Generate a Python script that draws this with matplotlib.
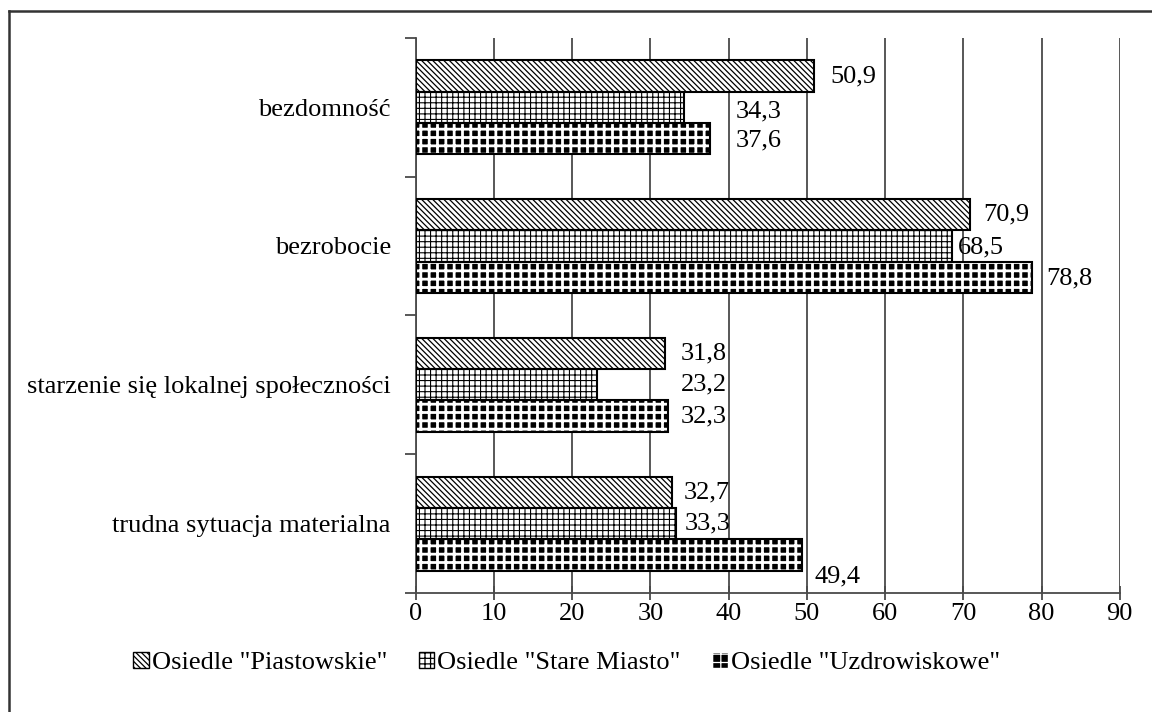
import matplotlib.pyplot as plt
import matplotlib.patches as mpatches
from matplotlib.lines import Line2D
import numpy as np

# categories listed bottom -> top
categories = ["trudna sytuacja materialna", "starzenie się lokalnej społeczności",
              "bezrobocie", "bezdomność"]
series_names = ['Osiedle "Piastowskie"', 'Osiedle "Stare Miasto"', 'Osiedle "Uzdrowiskowe"']
piastowskie = [32.7, 31.8, 70.9, 50.9]
stare_miasto = [33.3, 23.2, 68.5, 34.3]
uzdrowiskowe = [49.4, 32.3, 78.8, 37.6]
x_ticks = [0, 10, 20, 30, 40, 50, 60, 70, 80, 90]

# label nudges in pixels (dx, dy) per series, per category (bottom -> top)
label_shift = [
    [(12, 0), (16, 0), (13, 0), (16, -1)],
    [(8, 0), (84, 0), (6, -1), (52, -4)],
    [(12, -22), (12, 0), (14, -1), (26, -2)],
]

plt.rcParams["font.family"] = ["Liberation Serif", "DejaVu Serif"]
plt.rcParams["hatch.linewidth"] = 0.9

fig = plt.figure(figsize=(11.52, 7.12), dpi=100)
ax = fig.add_axes([0.361, 0.167, 0.611, 0.780])

y = np.arange(len(categories))
h = 0.225
offsets = [h, 0, -h]
gridc = "#4a4a4a"

ax.set_axisbelow(True)
ax.grid(True, axis="x", color=gridc, linewidth=1.3)

styles = [
    dict(facecolor="white", edgecolor="black", hatch="\\\\\\\\\\\\"),
    dict(facecolor="white", edgecolor="black", hatch="+++"),
    dict(facecolor="black", edgecolor="white", hatch="++"),
]
hatch_lw = [0.9, 0.8, 2.0]
data = [piastowskie, stare_miasto, uzdrowiskowe]

for i, (vals, st) in enumerate(zip(data, styles)):
    with plt.rc_context({"hatch.linewidth": hatch_lw[i]}):
        ax.barh(y + offsets[i], vals, height=h, linewidth=0, zorder=2, **st)
    ax.barh(y + offsets[i], vals, height=h, fill=False, edgecolor="black",
            linewidth=1.5, zorder=3)
    for j, v in enumerate(vals):
        dx, dy = label_shift[i][j]
        ax.annotate(f"{v:.1f}".replace(".", ","), (v, y[j] + offsets[i]),
                    xytext=(dx, dy), textcoords="offset pixels",
                    ha="left", va="center", fontsize=19)

ax.set_xlim(0, 90)
ax.set_ylim(-0.5, len(categories) - 0.5)
ax.set_xticks(x_ticks)
ax.set_xticklabels([str(t) for t in x_ticks], fontsize=19)
ax.tick_params(axis="x", direction="inout", length=10, width=1.3, color=gridc, pad=2)
ax.set_yticks(y)
ax.set_yticklabels(categories, fontsize=19)
ax.tick_params(axis="y", which="major", length=0, pad=18)
ax.set_yticks(np.arange(-0.5, len(categories), 1.0), minor=True)
ax.tick_params(axis="y", which="minor", length=8, width=1.3, color=gridc)

for s in ["top", "right"]:
    ax.spines[s].set_visible(False)
for s in ["left", "bottom"]:
    ax.spines[s].set_color(gridc)
    ax.spines[s].set_linewidth(1.3)

handles = []
for i, st in enumerate(styles):
    with plt.rc_context({"hatch.linewidth": hatch_lw[i]}):
        handles.append(mpatches.Patch(linewidth=1.0, **st))
leg = fig.legend(handles, series_names, loc="center", bbox_to_anchor=(0.4917, 0.069),
                 ncol=3, frameon=False, fontsize=19, handlelength=0.6,
                 handleheight=0.6, handletextpad=0.1, columnspacing=1.2)

# frame around the picture (only top and left edges visible)
fig.add_artist(Line2D([9 / 1152, 9 / 1152], [0, 1 - 11 / 712],
                      transform=fig.transFigure, color="#333333", linewidth=1.8))
fig.add_artist(Line2D([9 / 1152, 1], [1 - 11 / 712, 1 - 11 / 712],
                      transform=fig.transFigure, color="#333333", linewidth=1.8))

fig.savefig("out.png", dpi=100)
